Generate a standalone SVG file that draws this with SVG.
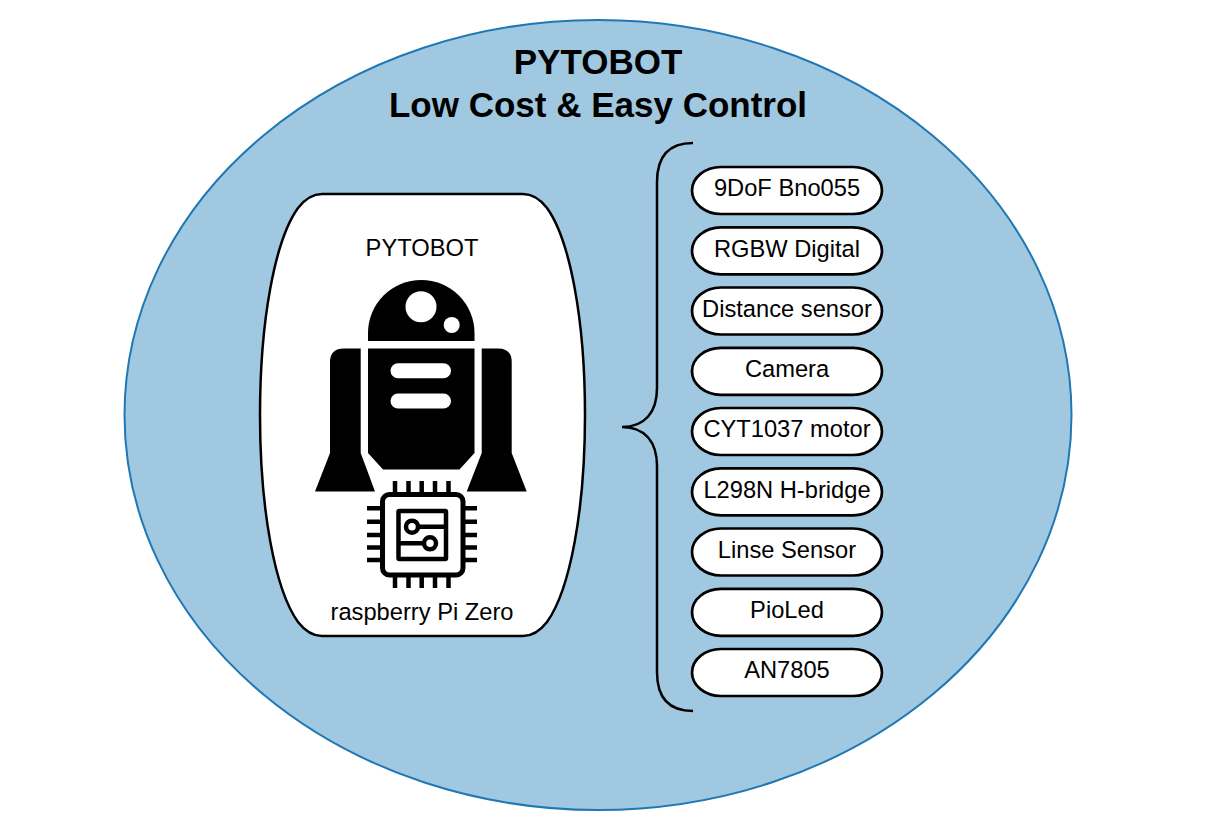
<svg xmlns="http://www.w3.org/2000/svg" width="1216" height="840" viewBox="0 0 1216 840">
<style>
text{font-family:"Liberation Sans",Arial,sans-serif;fill:#000;text-anchor:middle}
.t{font-size:35px;font-weight:bold}
.l{font-size:23.7px}
.p{fill:#fff;stroke:#000;stroke-width:2.7}
.w{fill:#fff;stroke:#000;stroke-width:2.5}
.ic{fill:none;stroke:#000;stroke-width:4.5}
.pin{stroke:#000;stroke-width:4.5}
</style>
<defs>
<path id="pill" class="p" d="M29 0H161A29 23.500 0 0 1 161 47H29A29 23.500 0 0 1 29 0Z"/>
</defs>
<rect width="1216" height="840" fill="#fff"/>
<g id="outer"><ellipse cx="598" cy="415" rx="473.500" ry="395" fill="#a0c8e1" stroke="#1f78b4" stroke-width="2"/></g>
<g id="title"><text class="t" x="598" y="74">PYTOBOT</text><text class="t" x="598" y="117">Low Cost &amp; Easy Control</text></g>
<g id="pytobot">
<path class="w" d="M322 194H523C533 194 540 199 547 208C570 240 585 320 585 415C585 510 570 590 547 622C540 631 533 636 523 636H322C312 636 305 631 298 622C275 590 260 510 260 415C260 320 275 240 298 208C305 199 312 194 322 194Z"/>
<text class="l" x="422" y="256">PYTOBOT</text>
<text class="l" x="422" y="620">raspberry Pi Zero</text>
<path d="M368 341V333A53.200 53 0 0 1 474.500 333V341Z"/>
<circle cx="421" cy="306.700" r="15.500" fill="#fff"/><circle cx="451.700" cy="325" r="8" fill="#fff"/>
<path d="M368 348.500H474.500V453L459.500 469.500H383L368 453Z"/>
<rect x="390.500" y="363.300" width="60.500" height="15" rx="7.500" fill="#fff"/>
<rect x="390.500" y="393.500" width="60.500" height="15" rx="7.500" fill="#fff"/>
<path d="M360.700 348.500V453L375 491.500H315L330 453V362Q330 348.500 344 348.500Z"/>
<path d="M481.700 348.500V453L466.700 491.500H526.700L511.700 453V362Q511.700 348.500 498 348.500Z"/>
<rect class="ic" x="382.500" y="494.500" width="80.500" height="80.500" rx="7" style="stroke-width:5"/>
<rect class="ic" x="398.500" y="511" width="47.500" height="48" rx="1"/>
<circle class="ic" cx="412" cy="526.700" r="6"/><circle class="ic" cx="430" cy="543.300" r="6"/>
<path class="ic" d="M418 526.700H446M398.500 543.300H424"/>
<path class="pin" d="M395 481V492M408.500 481V492M421.700 481V492M435 481V492M448.500 481V492M395 577V588M408.500 577V588M421.700 577V588M435 577V588M448.500 577V588M367 508.300H380M367 521.700H380M367 535H380M367 547.500H380M367 560H380M465 508.300H477M465 521.700H477M465 535H477M465 547.500H477M465 560H477"/>
</g>
<g id="connectors"><path d="M693 143C670 143 657 155 657 182V388C657 412 645 427 622 427C645 427 657 442 657 466V672C657 699 670 711 693 711" fill="none" stroke="#000" stroke-width="2.500"/></g>
<g id="n1"><use href="#pill" x="692" y="167"/><text class="l" x="787" y="196">9DoF Bno055</text></g>
<g id="n2"><use href="#pill" x="692" y="227.300"/><text class="l" x="787" y="257">RGBW Digital</text></g>
<g id="n3"><use href="#pill" x="692" y="287.500"/><text class="l" x="787" y="317">Distance sensor</text></g>
<g id="n4"><use href="#pill" x="692" y="347.800"/><text class="l" x="787" y="377">Camera</text></g>
<g id="n5"><use href="#pill" x="692" y="408"/><text class="l" x="787" y="437">CYT1037 motor</text></g>
<g id="n6"><use href="#pill" x="692" y="468.300"/><text class="l" x="787" y="498">L298N H-bridge</text></g>
<g id="n7"><use href="#pill" x="692" y="528.500"/><text class="l" x="787" y="558">Linse Sensor</text></g>
<g id="n8"><use href="#pill" x="692" y="588.800"/><text class="l" x="787" y="618">PioLed</text></g>
<g id="n9"><use href="#pill" x="692" y="649"/><text class="l" x="787" y="678">AN7805</text></g>
</svg>
